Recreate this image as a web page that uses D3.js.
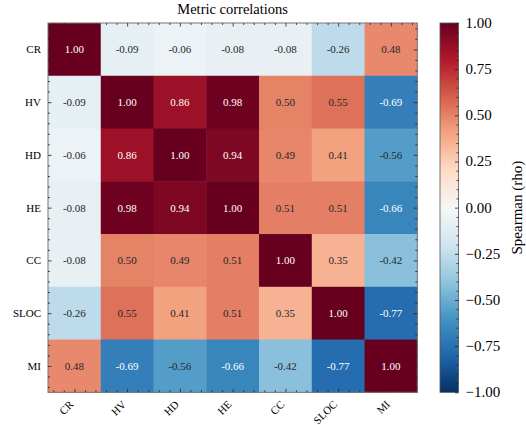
<!DOCTYPE html>
<html>
<head>
<meta charset="utf-8" />
<title>Metric correlations</title>
<script src="https://d3js.org/d3.v7.min.js"></script>
<style>
  body { margin: 0; background: #fff; }
  text { font-family: "Liberation Serif", "Times New Roman", serif; }
</style>
</head>
<body>
<script>
  // metrics and Spearman correlations
  const metrics = ["CR", "HV", "HD", "HE", "CC", "SLOC", "MI"];
  const rowCR   = [1.00, -0.09, -0.06, -0.08, -0.08, -0.26, 0.48];
  const rowHV   = [-0.09, 1.00, 0.86, 0.98, 0.50, 0.55, -0.69];
  const rowHD   = [-0.06, 0.86, 1.00, 0.94, 0.49, 0.41, -0.56];
  const rowHE   = [-0.08, 0.98, 0.94, 1.00, 0.51, 0.51, -0.66];
  const rowCC   = [-0.08, 0.50, 0.49, 0.51, 1.00, 0.35, -0.42];
  const rowSLOC = [-0.26, 0.55, 0.41, 0.51, 0.35, 1.00, -0.77];
  const rowMI   = [0.48, -0.69, -0.56, -0.66, -0.42, -0.77, 1.00];
  const rows = [rowCR, rowHV, rowHD, rowHE, rowCC, rowSLOC, rowMI];
  const cbarTicks = [-1, -0.75, -0.5, -0.25, 0, 0.25, 0.5, 0.75, 1];

  const W = 526, H = 425;
  const mLeft = 48, mTop = 23, size = 369.3;
  const n = metrics.length;

  const svg = d3.select("body").append("svg")
    .attr("width", W).attr("height", H);

  const x = d3.scaleLinear().domain([0, n]).range([mLeft, mLeft + size]);
  const y = d3.scaleLinear().domain([0, n]).range([mTop, mTop + size]);

  // RdBu_r like matplotlib: linear over the 11 brewer colours
  const rdbu = d3.schemeRdBu[11];
  const color = d3.scaleLinear()
    .domain(d3.range(11).map(i => 1 - i * 0.2))
    .range(rdbu)
    .interpolate(d3.interpolateRgb)
    .clamp(true);

  const cells = [];
  rows.forEach((r, i) => r.forEach((v, j) => cells.push({ i, j, v })));

  const g = svg.append("g");
  g.selectAll("rect.cell")
    .data(cells)
    .join("rect")
    .attr("class", "cell")
    .attr("x", d => x(d.j))
    .attr("y", d => y(d.i))
    .attr("width", x(1) - x(0) + 0.5)
    .attr("height", y(1) - y(0) + 0.5)
    .attr("fill", d => color(d.v));

  g.selectAll("text.annot")
    .data(cells)
    .join("text")
    .attr("class", "annot")
    .attr("x", d => x(d.j + 0.5))
    .attr("y", d => y(d.i + 0.5))
    .attr("dy", "0.35em")
    .attr("text-anchor", "middle")
    .attr("font-size", 11)
    .attr("fill", d => Math.abs(d.v) > 0.6 ? "#ffffff" : "#262626")
    .text(d => d.v.toFixed(2));

  // frame
  svg.append("rect")
    .attr("x", mLeft).attr("y", mTop)
    .attr("width", size).attr("height", size)
    .attr("fill", "none").attr("stroke", "#777").attr("stroke-width", 1);

  const major = d3.range(n).map(i => i + 0.5);
  const minor = d3.range(35).map(k => 0.1 + 0.2 * k).filter((v, k) => (k - 2) % 5 !== 0);

  function ticks(axisFn, scale, vals, len, tf) {
    return axisFn(scale).tickValues(vals).tickSize(-len).tickSizeOuter(0).tickPadding(7).tickFormat(tf);
  }
  const blank = () => "";
  function styleAxis(sel) {
    sel.select(".domain").remove();
    sel.selectAll("line").attr("stroke", "#222").attr("stroke-width", 0.8);
  }

  // left
  svg.append("g").attr("transform", `translate(${mLeft},0)`)
    .call(ticks(d3.axisLeft, y, major, 3.5, (d, i) => metrics[i]))
    .call(styleAxis)
    .selectAll("text").attr("font-size", 11).attr("fill", "#000");
  svg.append("g").attr("transform", `translate(${mLeft},0)`)
    .call(ticks(d3.axisLeft, y, minor, 2, blank)).call(styleAxis);
  // right
  svg.append("g").attr("transform", `translate(${mLeft + size},0)`)
    .call(ticks(d3.axisRight, y, major, 3.5, blank)).call(styleAxis);
  svg.append("g").attr("transform", `translate(${mLeft + size},0)`)
    .call(ticks(d3.axisRight, y, minor, 2, blank)).call(styleAxis);
  // top
  svg.append("g").attr("transform", `translate(0,${mTop})`)
    .call(ticks(d3.axisTop, x, major, 3.5, blank)).call(styleAxis);
  svg.append("g").attr("transform", `translate(0,${mTop})`)
    .call(ticks(d3.axisTop, x, minor, 2, blank)).call(styleAxis);
  // bottom
  svg.append("g").attr("transform", `translate(0,${mTop + size})`)
    .call(ticks(d3.axisBottom, x, major, 3.5, blank)).call(styleAxis);
  svg.append("g").attr("transform", `translate(0,${mTop + size})`)
    .call(ticks(d3.axisBottom, x, minor, 2, blank)).call(styleAxis);

  // rotated bottom labels
  svg.append("g").selectAll("text")
    .data(metrics)
    .join("text")
    .attr("transform", (d, i) => `translate(${x(i + 0.5) - 3},${mTop + size + 10}) rotate(-45)`)
    .attr("text-anchor", "end")
    .attr("dy", "0.35em")
    .attr("font-size", 11)
    .text(d => d);

  // title
  svg.append("text")
    .attr("x", mLeft + size / 2).attr("y", 14)
    .attr("text-anchor", "middle")
    .attr("font-size", 14.5)
    .text("Metric correlations");

  // colorbar
  const cbx = 440, cbw = 18.5;
  const cy = d3.scaleLinear().domain([-1, 1]).range([mTop + size, mTop]);
  const defs = svg.append("defs");
  const grad = defs.append("linearGradient")
    .attr("id", "cbar").attr("x1", "0%").attr("y1", "100%").attr("x2", "0%").attr("y2", "0%");
  d3.range(41).forEach(k => {
    const v = -1 + k * 0.05;
    grad.append("stop").attr("offset", (k / 40 * 100) + "%").attr("stop-color", color(v));
  });
  svg.append("rect")
    .attr("x", cbx).attr("y", mTop).attr("width", cbw).attr("height", size)
    .attr("fill", "url(#cbar)").attr("stroke", "#555").attr("stroke-width", 0.8);

  const cbMinor = d3.range(41).map(k => -1 + k * 0.05)
    .filter((v, k) => k % 5 !== 0);
  svg.append("g").attr("transform", `translate(${cbx + cbw},0)`)
    .call(d3.axisRight(cy).tickValues(cbarTicks).tickSize(-3.5).tickSizeOuter(0).tickPadding(7)
      .tickFormat(d => (d < 0 ? "\u2212" : "") + Math.abs(d).toFixed(2)))
    .call(styleAxis)
    .selectAll("text").attr("font-size", 15).attr("fill", "#000").attr("dy", "0.3em");
  svg.append("g").attr("transform", `translate(${cbx + cbw},0)`)
    .call(d3.axisRight(cy).tickValues(cbMinor).tickSize(-2).tickSizeOuter(0).tickFormat(blank))
    .call(styleAxis);

  svg.append("text")
    .attr("transform", `translate(522,${mTop + size / 2}) rotate(-90)`)
    .attr("text-anchor", "middle")
    .attr("font-size", 15)
    .text("Spearman (rho)");
</script>
</body>
</html>
